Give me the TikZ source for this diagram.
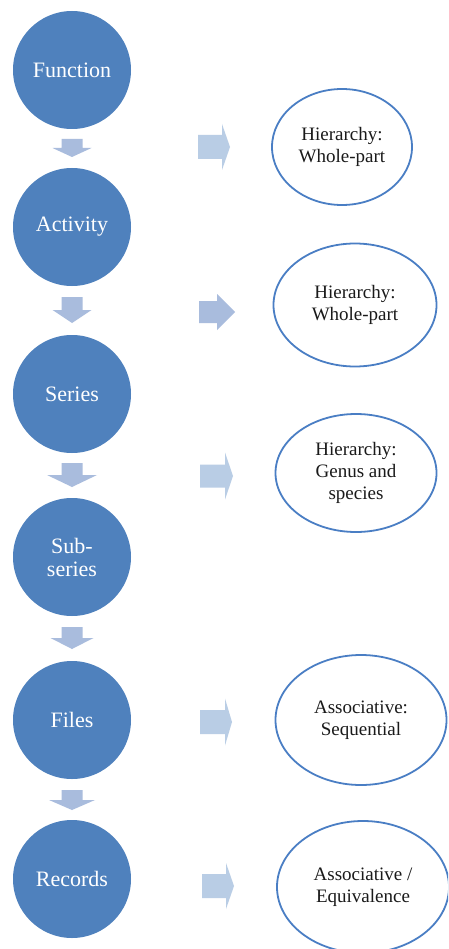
\documentclass[tikz,border=0pt]{standalone}
\usepackage{fontspec}
\setmainfont{Liberation Serif}
\definecolor{circfill}{HTML}{4F81BD}
\definecolor{ellline}{HTML}{4A7EC4}
\definecolor{arrlight}{HTML}{B9CDE5}
\definecolor{arrdark}{HTML}{A9BCDD}
\definecolor{elltext}{HTML}{1A1A1A}
\tikzset{
  levelnode/.style={circle, fill=circfill, draw=none, minimum size=118pt, inner sep=0pt, text=white, align=center, font=\fontsize{22}{23}\selectfont},
  relnode/.style={ellipse, draw=ellline, line width=1.8pt, fill=white, inner sep=0pt, text=elltext, align=center, font=\fontsize{19}{22}\selectfont},
  blockarrow/.style={fill=arrdark, draw=none},
  blockarrowlight/.style={fill=arrlight, draw=none}
}
\usetikzlibrary{shapes.geometric}
% down arrow: cx, ytop, yhead, ytip, shaft half width, head half width
\newcommand{\dnarrow}[7][blockarrow]{%
  \fill[#1] (#2-#6,#3) -- (#2+#6,#3) -- (#2+#6,#4) -- (#2+#7,#4) -- (#2,#5) -- (#2-#7,#4) -- (#2-#6,#4) -- cycle;}
% right arrow: x0, xhead, xtip, cy, shaft half height, head half height
\newcommand{\rtarrow}[7][blockarrowlight]{%
  \fill[#1] (#2,#5-#6) -- (#3,#5-#6) -- (#3,#5-#7) -- (#4,#5) -- (#3,#5+#7) -- (#3,#5+#6) -- (#2,#5+#6) -- cycle;}
\begin{document}
\begin{tikzpicture}[x=1pt,y=-1pt]
\useasboundingbox (0,0) rectangle (448,949);
\clip (0,0) rectangle (448,949);
\fill[white] (0,0) rectangle (448,949);

% level circles
\node[levelnode] (function) at (72,70) {Function};
\node[levelnode] (activity) at (72,227) {Activity};
\node[levelnode] (series) at (72,394) {Series};
\node[levelnode] (subseries) at (72,557) {Sub-\\series};
\node[levelnode] (files) at (72,720) {Files};
\node[levelnode] (records) at (72,879) {Records};

% down arrows
\dnarrow{72}{139}{148}{157}{10.5}{19.5}
\dnarrow{72}{297}{310}{323}{10.5}{19.5}
\dnarrow{72}{463}{475}{487}{10.5}{25}
\dnarrow{72}{627}{638}{649}{10.5}{21.5}
\dnarrow{72}{790}{800}{810}{10.5}{23}

% right arrows
\rtarrow{198}{222}{230}{147}{12}{23}
\rtarrow[blockarrow]{199}{217}{235}{312}{11}{18}
\rtarrow{200}{225}{233}{476}{11.5}{23.5}
\rtarrow{200}{225}{232}{722}{12}{23.5}
\rtarrow{202}{226}{234}{886}{12}{23}

% relation ellipses
\node[relnode, minimum width=140pt, minimum height=116pt] (rel1) at (342,147) {Hierarchy:\\Whole-part};
\node[relnode, minimum width=163pt, minimum height=123pt] (rel2) at (355,305) {Hierarchy:\\Whole-part};
\node[relnode, minimum width=161pt, minimum height=118pt] (rel3) at (356,473) {Hierarchy:\\Genus and\\species};
\node[relnode, minimum width=171pt, minimum height=130pt] (rel4) at (361,720) {Associative:\\Sequential};
\node[relnode, minimum width=172pt, minimum height=132pt] (rel5) at (363,887) {Associative /\\Equivalence};
\end{tikzpicture}
\end{document}
